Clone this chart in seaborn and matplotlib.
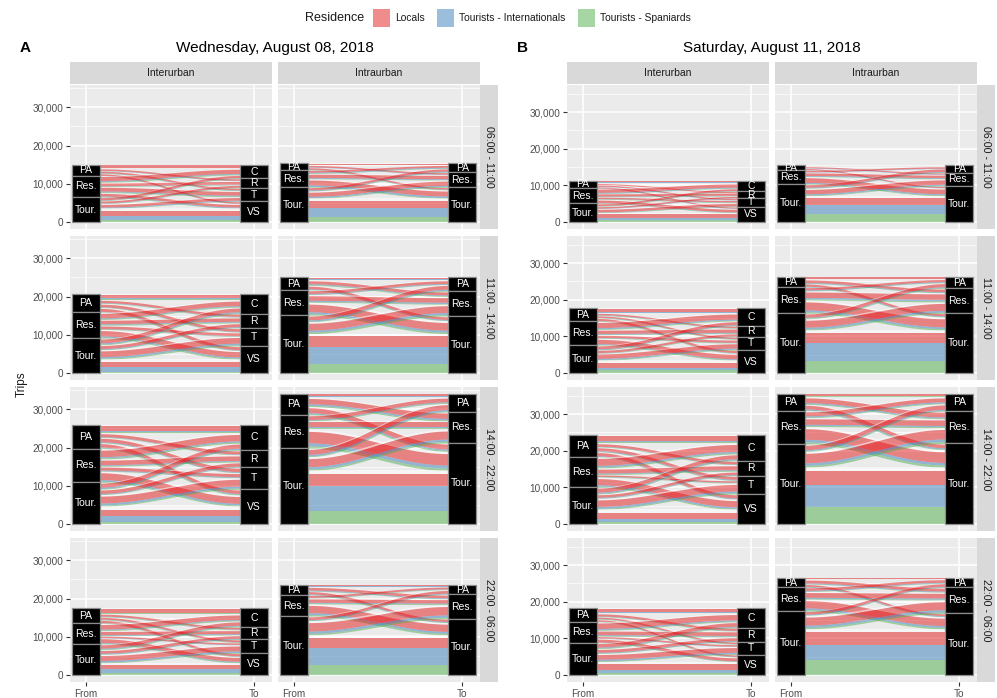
import numpy as np
import pandas as pd
import matplotlib
matplotlib.use("Agg")
import matplotlib.pyplot as plt
from matplotlib.patches import Rectangle
import seaborn as sns

# ---------------- data ----------------
days = ["Wednesday, August 08, 2018", "Saturday, August 11, 2018"]
panel_tags = ["A", "B"]
trip_types = ["Interurban", "Intraurban"]
periods = ["06:00 - 11:00", "11:00 - 14:00", "14:00 - 22:00", "22:00 - 06:00"]
from_strata = ["PA", "Res.", "Tour."]
to_strata_inter = ["C", "R", "T", "VS"]
to_strata_intra = ["PA", "Res.", "Tour."]
residences = ["Locals", "Tourists - Internationals", "Tourists - Spaniards", "Unknown"]
legend_residences = ["Locals", "Tourists - Internationals", "Tourists - Spaniards"]

# flows in hundreds of trips: rows = From stratum, cols = To stratum,
# cell = [Locals, Internationals, Spaniards, Unknown]
wed_inter_0611 = [
    [[6, 1, 1, 1], [4, 1, 0, 1], [4, 1, 1, 1], [4, 1, 0, 1]],
    [[11, 2, 2, 2], [7, 1, 1, 2], [10, 2, 2, 2], [7, 2, 1, 2]],
    [[6, 1, 1, 1], [5, 1, 1, 1], [7, 2, 1, 2], [13, 11, 6, 6]],
]
wed_inter_1114 = [
    [[10, 2, 2, 2], [6, 1, 1, 1], [7, 1, 1, 2], [8, 1, 1, 2]],
    [[12, 2, 2, 3], [9, 2, 2, 2], [7, 1, 1, 2], [14, 3, 3, 3]],
    [[10, 3, 2, 2], [8, 2, 1, 2], [15, 4, 3, 3], [13, 13, 4, 6]],
]
wed_inter_1422 = [
    [[14, 3, 2, 3], [8, 1, 1, 2], [9, 2, 1, 2], [9, 2, 2, 2]],
    [[17, 3, 3, 4], [12, 2, 2, 3], [8, 2, 1, 2], [18, 4, 3, 4]],
    [[11, 3, 2, 2], [9, 2, 1, 2], [18, 5, 3, 4], [17, 15, 6, 9]],
]
wed_inter_2206 = [
    [[9, 2, 1, 2], [5, 1, 1, 1], [5, 1, 1, 1], [6, 1, 1, 1]],
    [[12, 2, 2, 3], [8, 2, 1, 2], [4, 1, 0, 1], [10, 2, 2, 2]],
    [[9, 2, 2, 2], [7, 2, 1, 2], [13, 4, 2, 3], [11, 10, 6, 5]],
]
sat_inter_0611 = [
    [[4, 1, 1, 1], [3, 0, 0, 1], [3, 1, 0, 1], [3, 1, 0, 1]],
    [[9, 2, 1, 2], [6, 1, 1, 1], [4, 1, 1, 1], [7, 1, 1, 2]],
    [[5, 1, 1, 1], [4, 1, 0, 1], [7, 1, 1, 2], [11, 5, 5, 5]],
]
sat_inter_1114 = [
    [[9, 2, 1, 2], [4, 1, 1, 1], [4, 1, 1, 1], [6, 1, 1, 1]],
    [[14, 3, 2, 3], [9, 2, 1, 2], [6, 1, 1, 2], [12, 2, 2, 3]],
    [[8, 2, 1, 2], [6, 1, 1, 1], [12, 3, 2, 2], [12, 7, 8, 8]],
]
sat_inter_1422 = [
    [[14, 3, 2, 3], [7, 1, 1, 2], [8, 2, 1, 2], [9, 2, 1, 2]],
    [[19, 4, 3, 4], [11, 2, 2, 3], [4, 1, 1, 1], [17, 4, 3, 4]],
    [[11, 3, 2, 2], [7, 2, 1, 2], [18, 5, 3, 4], [15, 9, 6, 10]],
]
sat_inter_2206 = [
    [[9, 2, 1, 2], [6, 1, 1, 1], [4, 1, 1, 1], [4, 1, 1, 1]],
    [[15, 3, 2, 3], [10, 2, 2, 2], [4, 1, 0, 1], [8, 1, 1, 2]],
    [[10, 2, 2, 2], [8, 2, 1, 2], [13, 4, 2, 3], [15, 9, 6, 7]],
]
wed_intra_0611 = [
    [[2, 1, 0, 1], [4, 1, 0, 1], [4, 1, 1, 1]],
    [[5, 2, 1, 1], [9, 2, 1, 2], [13, 4, 2, 3]],
    [[6, 2, 1, 1], [11, 3, 2, 3], [20, 24, 12, 6]],
]
wed_intra_1114 = [
    [[4, 1, 1, 1], [8, 2, 2, 2], [7, 2, 1, 2]],
    [[7, 2, 1, 2], [12, 3, 2, 3], [20, 5, 4, 5]],
    [[10, 3, 2, 2], [18, 5, 4, 4], [28, 46, 23, 6]],
]
wed_intra_1422 = [
    [[6, 2, 1, 1], [14, 4, 3, 3], [13, 3, 3, 3]],
    [[10, 2, 2, 2], [13, 3, 2, 3], [30, 8, 6, 6]],
    [[13, 4, 2, 3], [21, 6, 4, 5], [31, 65, 34, 10]],
]
wed_intra_2206 = [
    [[2, 1, 0, 1], [7, 2, 1, 2], [6, 2, 1, 1]],
    [[5, 1, 1, 1], [9, 2, 2, 2], [19, 5, 4, 4]],
    [[7, 2, 1, 2], [22, 6, 4, 5], [28, 44, 26, 7]],
]
sat_intra_0611 = [
    [[2, 0, 0, 1], [3, 1, 0, 1], [3, 1, 0, 1]],
    [[4, 1, 0, 1], [7, 2, 1, 2], [13, 3, 2, 3]],
    [[7, 2, 1, 1], [12, 3, 2, 3], [20, 25, 21, 6]],
]
sat_intra_1114 = [
    [[4, 1, 0, 1], [7, 2, 1, 2], [6, 2, 1, 1]],
    [[6, 2, 1, 1], [15, 4, 3, 3], [22, 5, 4, 5]],
    [[9, 2, 2, 2], [19, 5, 3, 4], [29, 49, 32, 7]],
]
sat_intra_1422 = [
    [[5, 2, 1, 1], [13, 3, 2, 3], [10, 3, 2, 2]],
    [[11, 3, 2, 3], [15, 3, 3, 3], [29, 7, 6, 6]],
    [[12, 3, 2, 3], [26, 7, 5, 5], [39, 59, 47, 10]],
]
sat_intra_2206 = [
    [[2, 1, 0, 1], [8, 2, 1, 2], [5, 2, 1, 1]],
    [[7, 2, 1, 1], [13, 3, 2, 3], [20, 5, 4, 4]],
    [[7, 2, 1, 1], [22, 6, 4, 5], [37, 39, 42, 8]],
]

panels = {
    (0, 0, 0): wed_inter_0611, (0, 0, 1): wed_inter_1114,
    (0, 0, 2): wed_inter_1422, (0, 0, 3): wed_inter_2206,
    (0, 1, 0): wed_intra_0611, (0, 1, 1): wed_intra_1114,
    (0, 1, 2): wed_intra_1422, (0, 1, 3): wed_intra_2206,
    (1, 0, 0): sat_inter_0611, (1, 0, 1): sat_inter_1114,
    (1, 0, 2): sat_inter_1422, (1, 0, 3): sat_inter_2206,
    (1, 1, 0): sat_intra_0611, (1, 1, 1): sat_intra_1114,
    (1, 1, 2): sat_intra_1422, (1, 1, 3): sat_intra_2206,
}

records = []
for (d, t, p), mat in panels.items():
    tos = to_strata_inter if t == 0 else to_strata_intra
    for i, f in enumerate(from_strata):
        for j, to in enumerate(tos):
            for k, r in enumerate(residences):
                records.append(dict(day=days[d], type=trip_types[t], period=periods[p],
                                    From=f, To=to, Residence=r, trips=mat[i][j][k] * 100))
df = pd.DataFrame(records)

# ---------------- style ----------------
sns.set_theme(style="darkgrid", rc={"axes.facecolor": "#EBEBEB", "grid.color": "white"})
plt.rcParams["font.family"] = ["Liberation Sans", "DejaVu Sans"]
set1 = sns.color_palette("Set1")
fill_colors = {"Locals": set1[0], "Tourists - Internationals": set1[1],
               "Tourists - Spaniards": set1[2], "Unknown": (1, 1, 1)}
stack_res = ["Unknown", "Locals", "Tourists - Internationals", "Tourists - Spaniards"]

FW, FH = 997, 698
fig = plt.figure(figsize=(FW / 100, FH / 100), dpi=100)
fig.patch.set_facecolor("white")


def rect(left, top, w, h):
    return [left / FW, 1 - (top + h) / FH, w / FW, h / FH]


W = 0.165
XL = (0.905, 2.105)
PW, PH = 202, 143.6
ROW_STEP = 151
COL_STEP = 208
TEXT_DARK = "#1A1A1A"
TICK_COL = "#4D4D4D"


def draw_panel(ax, sub, tos, ymax):
    val = {(r.From, r.To, r.Residence): r.trips for r in sub.itertuples()}
    total = sub.trips.sum()
    lo_from, strata_from = {}, []
    y = total
    for f in from_strata:
        top = y
        for to in tos:
            for r in stack_res:
                v = val[(f, to, r)]
                lo_from[(f, to, r)] = (y - v, y)
                y -= v
        strata_from.append((f, y, top))
    lo_to, strata_to = {}, []
    y = total
    for to in tos:
        top = y
        for f in from_strata:
            for r in stack_res:
                v = val[(f, to, r)]
                lo_to[(f, to, r)] = (y - v, y)
                y -= v
        strata_to.append((to, y, top))

    x0, x1 = 1 + W / 2, 2 - W / 2
    tt = np.linspace(0, 1, 80)
    ss = (1 - np.cos(np.pi * tt)) / 2
    xs = x0 + (x1 - x0) * tt
    xs = np.concatenate([[1.0], xs, [2.0]])
    ss = np.concatenate([[0.0], ss, [1.0]])
    for key, (b0, t0) in lo_from.items():
        if t0 - b0 <= 0:
            continue
        b1, t1 = lo_to[key]
        ax.fill_between(xs, b0 + (b1 - b0) * ss, t0 + (t1 - t0) * ss,
                        color=fill_colors[key[2]], alpha=0.5, lw=0, zorder=2)
    for x, strata in ((1, strata_from), (2, strata_to)):
        for name, b, tp in strata:
            ax.add_patch(Rectangle((x - W / 2, b), W, tp - b, facecolor="black",
                                   edgecolor="#8c8c8c", lw=0.9, zorder=3))
            ax.text(x, (b + tp) / 2, name, color="white", ha="center", va="center",
                    fontsize=7.5, zorder=4)

    ax.set_xlim(*XL)
    ax.set_ylim(-0.05 * ymax, 1.05 * ymax)
    ax.set_yticks([0, 10000, 20000, 30000])
    ax.set_yticks([5000, 15000, 25000, 35000], minor=True)
    ax.set_xticks([1, 2])
    ax.grid(which="major", color="white", lw=1.1)
    ax.grid(which="minor", color="white", lw=0.5)
    ax.set_axisbelow(True)
    for sp in ax.spines.values():
        sp.set_visible(False)


for d in range(2):
    ddf = df[df.day == days[d]]
    ymax = ddf.groupby(["type", "period"]).trips.sum().max()
    base_left = 70 + d * 497
    for t in range(2):
        tos = to_strata_inter if t == 0 else to_strata_intra
        left = base_left + t * COL_STEP
        for p in range(4):
            top = 85 + p * ROW_STEP
            ax = fig.add_axes(rect(left, top, PW, PH))
            sub = ddf[(ddf.type == trip_types[t]) & (ddf.period == periods[p])]
            draw_panel(ax, sub, tos, ymax)
            ax.tick_params(axis="both", which="major", length=3, width=0.8,
                           color="#333333", labelsize=7.2, labelcolor=TICK_COL, pad=2)
            ax.tick_params(axis="both", which="minor", length=0)
            if t == 0:
                ax.set_yticklabels(["0", "10,000", "20,000", "30,000"])
                ax.tick_params(axis="y", left=True)
            else:
                ax.set_yticklabels([])
                ax.tick_params(axis="y", left=False)
            if p == 3:
                ax.set_xticklabels(["From", "To"])
                ax.tick_params(axis="x", bottom=True)
            else:
                ax.set_xticklabels([])
                ax.tick_params(axis="x", bottom=False)
            # right strip
            if t == 1:
                sax = fig.add_axes(rect(left + PW, top, 18, PH))
                sax.set_facecolor("#D9D9D9")
                sax.set_xticks([]); sax.set_yticks([]); sax.grid(False)
                for sp in sax.spines.values():
                    sp.set_visible(False)
                sax.text(0.5, 0.5, periods[p], rotation=-90, ha="center", va="center",
                         fontsize=7.7, color=TEXT_DARK, transform=sax.transAxes)
        # top strip
        tax = fig.add_axes(rect(left, 62, PW, 22))
        tax.set_facecolor("#D9D9D9")
        tax.set_xticks([]); tax.set_yticks([]); tax.grid(False)
        for sp in tax.spines.values():
            sp.set_visible(False)
        tax.text(0.5, 0.5, trip_types[t], ha="center", va="center", fontsize=7.5,
                 color=TEXT_DARK, transform=tax.transAxes)
    # titles
    cx = (base_left + base_left + COL_STEP + PW) / 2
    fig.text(cx / FW, 1 - 48 / FH, days[d], ha="center", va="center", fontsize=11, color="black")
    fig.text((20 + d * 497) / FW, 1 - 48 / FH, panel_tags[d], ha="left", va="center",
             fontsize=11, fontweight="bold", color="black")

fig.text(22 / FW, 1 - 384 / FH, "Trips", rotation=90, ha="center", va="center",
         fontsize=8.5, color=TEXT_DARK)

# legend
fig.text(305 / FW, 1 - 18 / FH, "Residence", ha="left", va="center", fontsize=9, color=TEXT_DARK)
leg_x = [373, 437, 578]
for lx, r in zip(leg_x, legend_residences):
    fig.patches.append(Rectangle((lx / FW, 1 - 27 / FH), 17 / FW, 18 / FH,
                                 transform=fig.transFigure, facecolor=fill_colors[r],
                                 alpha=0.5, edgecolor="none"))
    fig.text((lx + 22) / FW, 1 - 18 / FH, r, ha="left", va="center", fontsize=7.4, color=TEXT_DARK)

fig.savefig("out.png", dpi=100)
